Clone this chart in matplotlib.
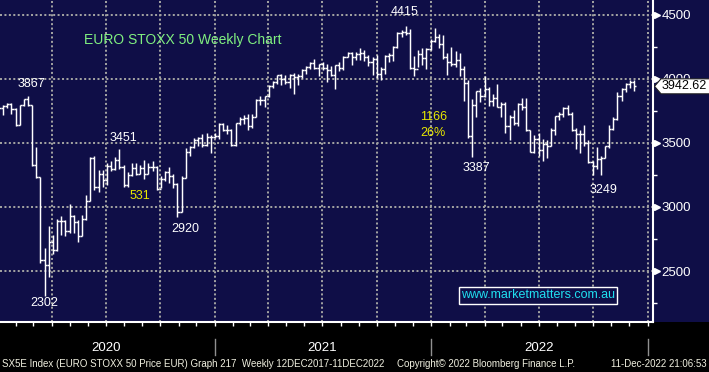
import numpy as np
import pandas as pd
import matplotlib
matplotlib.use("Agg")
import matplotlib.pyplot as plt
import matplotlib.dates as mdates
import matplotlib.transforms as mtransforms
from matplotlib.patches import Rectangle, Polygon

plt.rcParams['font.family'] = ['Liberation Sans', 'DejaVu Sans']

# weekly bars, week ending Friday, Jan 2020 - Dec 2022
week_ending = pd.date_range("2020-01-03", "2022-12-09", freq="W-FRI")

opens = [3745, 3773, 3789, 3808, 3765, 3640, 3798, 3840, 3800, 3329,
         3232, 2586, 2549, 2728, 2663, 2892, 2888, 2809, 2928, 2880,
         2770, 2905, 3050, 3384, 3153, 3254, 3210, 3320, 3296, 3371,
         3311, 3174, 3252, 3303, 3261, 3306, 3261, 3315, 3316, 3137,
         3218, 3273, 3245, 3180, 2958, 3230, 3432, 3467, 3527, 3537,
         3483, 3548, 3543,
         3553, 3645, 3600, 3602, 3481, 3655, 3688, 3699, 3636, 3706,
         3832, 3837, 3867, 3945, 3979, 4032, 3999, 3975, 4034, 4017,
         4025, 4072, 4093, 4127, 4083, 4115, 4084, 4071, 4031, 4109,
         4089, 4175, 4201, 4170, 4196, 4202, 4170, 4130, 4159, 4036,
         4078, 4183, 4189, 4250, 4363, 4370, 4356, 4089, 4080, 4199,
         4161, 4234,
         4298, 4325, 4273, 4175, 4136, 4116, 4149, 4075, 3970, 3556,
         3800, 3903, 3868, 3918, 3831, 3848, 3784, 3803, 3629, 3704,
         3657, 3808, 3783, 3599, 3431, 3533, 3448, 3490, 3477, 3605,
         3708, 3723, 3776, 3730, 3603, 3570, 3570, 3500, 3348, 3318,
         3375, 3381, 3477, 3613, 3688, 3867, 3924, 3963, 3977]
highs = [3790, 3795, 3812, 3810, 3770, 3800, 3845, 3867, 3800, 3470,
         3235, 2680, 2855, 2780, 2910, 2930, 2900, 3020, 2935, 2900,
         2940, 3090, 3390, 3400, 3290, 3290, 3340, 3360, 3390, 3451,
         3330, 3270, 3340, 3340, 3330, 3370, 3340, 3360, 3320, 3240,
         3280, 3310, 3260, 3190, 3240, 3460, 3480, 3540, 3550, 3570,
         3580, 3560, 3580,
         3655, 3660, 3640, 3610, 3660, 3700, 3720, 3730, 3730, 3840,
         3870, 3870, 3950, 3985, 4035, 4040, 4030, 4040, 4045, 4040,
         4080, 4100, 4130, 4160, 4120, 4130, 4120, 4100, 4110, 4130,
         4180, 4210, 4210, 4210, 4240, 4230, 4190, 4170, 4190, 4090,
         4190, 4200, 4260, 4365, 4385, 4415, 4390, 4180, 4230, 4240,
         4240, 4310,
         4401, 4350, 4340, 4200, 4250, 4220, 4200, 4100, 3990, 3840,
         3910, 3930, 4020, 3940, 3880, 3960, 3820, 3820, 3720, 3760,
         3810, 3850, 3850, 3600, 3560, 3580, 3530, 3520, 3620, 3710,
         3740, 3780, 3800, 3740, 3620, 3600, 3640, 3520, 3360, 3470,
         3400, 3480, 3640, 3700, 3900, 3930, 3970, 3990, 3990]
lows = [3745, 3720, 3770, 3730, 3630, 3640, 3790, 3790, 3320, 3230,
        2560, 2302, 2450, 2630, 2660, 2780, 2770, 2800, 2800, 2730,
        2770, 2900, 3050, 3130, 3120, 3160, 3170, 3280, 3290, 3300,
        3160, 3160, 3240, 3250, 3260, 3220, 3260, 3280, 3130, 3150,
        3200, 3190, 3150, 2920, 2958, 3230, 3400, 3460, 3480, 3470,
        3480, 3420, 3540,
        3530, 3590, 3570, 3480, 3480, 3640, 3650, 3600, 3620, 3700,
        3800, 3780, 3860, 3930, 3960, 3950, 3960, 3930, 3880, 3950,
        4010, 4040, 4080, 4080, 4020, 4070, 3980, 4020, 3925, 4060,
        4070, 4170, 4110, 4150, 4150, 4140, 4100, 4030, 4010, 3990,
        4040, 4130, 4140, 4240, 4330, 4340, 4080, 4020, 4090, 4110,
        4080, 4230,
        4290, 4240, 4160, 4030, 4100, 4090, 4020, 3830, 3540, 3387,
        3700, 3820, 3860, 3790, 3790, 3780, 3700, 3580, 3520, 3640,
        3630, 3760, 3590, 3430, 3420, 3400, 3360, 3380, 3480, 3560,
        3680, 3700, 3720, 3590, 3450, 3420, 3480, 3340, 3249, 3300,
        3250, 3380, 3460, 3600, 3680, 3830, 3900, 3930, 3910]
closes = [3773, 3789, 3808, 3765, 3640, 3798, 3840, 3800, 3329, 3232,
          2586, 2549, 2728, 2663, 2892, 2888, 2809, 2928, 2880, 2770,
          2905, 3050, 3384, 3153, 3254, 3210, 3320, 3296, 3371, 3311,
          3174, 3252, 3303, 3261, 3306, 3261, 3315, 3316, 3137, 3218,
          3273, 3245, 3180, 2958, 3230, 3432, 3467, 3527, 3537, 3483,
          3548, 3543, 3553,
          3645, 3600, 3602, 3481, 3655, 3688, 3699, 3636, 3706, 3832,
          3837, 3867, 3945, 3979, 4032, 3999, 3975, 4034, 4017, 4025,
          4072, 4093, 4127, 4083, 4115, 4084, 4071, 4031, 4109, 4089,
          4175, 4201, 4170, 4196, 4202, 4170, 4130, 4159, 4036, 4078,
          4183, 4189, 4250, 4363, 4370, 4356, 4089, 4080, 4199, 4161,
          4234, 4298,
          4325, 4273, 4175, 4136, 4116, 4149, 4075, 3970, 3556, 3800,
          3903, 3868, 3918, 3831, 3848, 3784, 3803, 3629, 3704, 3657,
          3808, 3783, 3599, 3431, 3533, 3448, 3490, 3477, 3605, 3708,
          3723, 3776, 3730, 3603, 3570, 3570, 3500, 3348, 3318, 3375,
          3381, 3477, 3613, 3688, 3867, 3924, 3963, 3977, 3942.62]

price_ticks = [2500, 3000, 3500, 4000, 4500]
price_minor = [2250, 2750, 3250, 3750, 4250]
years = ["2020", "2021", "2022"]
last_price = "3942.62"

# text labels on the chart: (text, x px, y px, colour)
NAVY = '#0f0e47'
WHITE = '#ffffff'
YELLOW = '#e8e800'
labels = [("3867", 31, 84, WHITE), ("3451", 123, 138, WHITE),
          ("531", 140, 196, YELLOW), ("2920", 185, 229, WHITE),
          ("2302", 44, 303, WHITE), ("4415", 405, 12, WHITE),
          ("1166", 434, 117, YELLOW), ("26%", 433, 133, YELLOW),
          ("3387", 476, 168, WHITE), ("3249", 603, 190, WHITE)]

W, H = 709, 372
def fx(x):
    return x / W
def fy(y):
    return 1 - y / H

fig = plt.figure(figsize=(W / 100, H / 100), dpi=100, facecolor='black')
fig.add_artist(Rectangle((0, fy(322)), 1, 322 / H, transform=fig.transFigure,
                         facecolor=NAVY, edgecolor='none', zorder=-1))
ax = fig.add_axes([0, fy(322), 653 / W, 322 / H], facecolor=NAVY)

x = mdates.date2num(week_ending)
t0 = x[0]
ax.set_xlim(t0 + 1.7, t0 + 1103)
ax.set_ylim(2101.6, 4617)

TICK = 3.5
ax.vlines(x, lows, highs, color='white', lw=1.05, zorder=3)
ax.hlines(opens, x - TICK, x, color='white', lw=1.05, zorder=3)
ax.hlines(closes, x, x + TICK, color='white', lw=1.05, zorder=3)

# axes and grid
for s in ['top', 'left']:
    ax.spines[s].set_visible(False)
for s in ['bottom', 'right']:
    ax.spines[s].set_color('white')
    ax.spines[s].set_linewidth(1.5)

ax.xaxis.set_major_locator(mdates.MonthLocator(bymonth=[1, 4, 7, 10]))
ax.xaxis.set_minor_locator(mdates.MonthLocator())
ax.tick_params(axis='x', which='both', direction='out', length=3, width=1,
               color='white', labelbottom=False)
ax.yaxis.tick_right()
ax.set_yticks(price_ticks)
ax.set_yticks(price_minor, minor=True)
ax.set_yticklabels([str(t) for t in price_ticks])
ax.tick_params(axis='y', which='major', length=0, pad=6, labelsize=9.5,
               labelcolor='white')
ax.tick_params(axis='y', which='minor', length=3, width=1, color='white')
ax.grid(True, which='major', color='#a0a0a0', lw=1.45, ls=(0, (1, 1.2)))
ax.set_axisbelow(True)

ax.plot([1 + 3.5 / 653] * len(price_ticks), price_ticks, ls='none', marker='>',
        ms=5, color='white', mec='white', transform=ax.get_yaxis_transform(),
        clip_on=False)

# year labels and separators
xt = ax.get_xaxis_transform()
for yr in years:
    mid = mdates.date2num(pd.Timestamp(f"{yr}-07-01"))
    ax.text(mid, -0.081, yr, transform=xt, ha='center', va='center',
            color='white', fontsize=9.5)
    end = mdates.date2num(pd.Timestamp(f"{int(yr) + 1}-01-01"))
    ax.plot([end, end], [-0.053, -0.102], transform=xt, color='#909090',
            lw=1, clip_on=False)

# chart texts
fig.text(fx(84), fy(40), "EURO STOXX 50 Weekly Chart", color='#80f080',
         fontsize=10, ha='left', va='center')
for txt, px, py, col in labels:
    fig.text(fx(px), fy(py), txt, color=col, fontsize=9, ha='center',
             va='center')

fig.add_artist(Rectangle((fx(459), fy(304)), (617 - 459) / W, 17 / H,
                         transform=fig.transFigure, facecolor=NAVY,
                         edgecolor='white', lw=1, zorder=2))
fig.text(fx(538), fy(295.5), "www.marketmatters.com.au", color='#20e0f0',
         fontsize=9, ha='center', va='center', zorder=3)

# last price tag (covers most of the 4000 label, as in the original)
yd = ax.transData.transform((t0, closes[-1]))[1]
ident = mtransforms.IdentityTransform()
tag = Polygon([(654.5, yd), (661, yd + 7.5), (712, yd + 7.5),
               (712, yd - 7.5), (661, yd - 7.5)], closed=True,
              facecolor='white', edgecolor='#202020', lw=0.8,
              transform=ident, zorder=4)
fig.add_artist(tag)
fig.text(662, yd, last_price, transform=ident, color='black', fontsize=9,
         ha='left', va='center', zorder=5)

# footer
foot = '#f0f0e0'
fig.text(fx(2), fy(364), "SX5E Index (EURO STOXX 50 Price EUR) Graph 217  Weekly 12DEC2017-11DEC2022",
         color=foot, fontsize=7, ha='left', va='center')
fig.text(fx(397), fy(364), "Copyright\u00a9 2022 Bloomberg Finance L.P.",
         color=foot, fontsize=7, ha='left', va='center')
fig.text(fx(707), fy(364), "11-Dec-2022 21:06:53", color=foot, fontsize=7,
         ha='right', va='center')

fig.savefig("out.png", dpi=100, facecolor='black')
